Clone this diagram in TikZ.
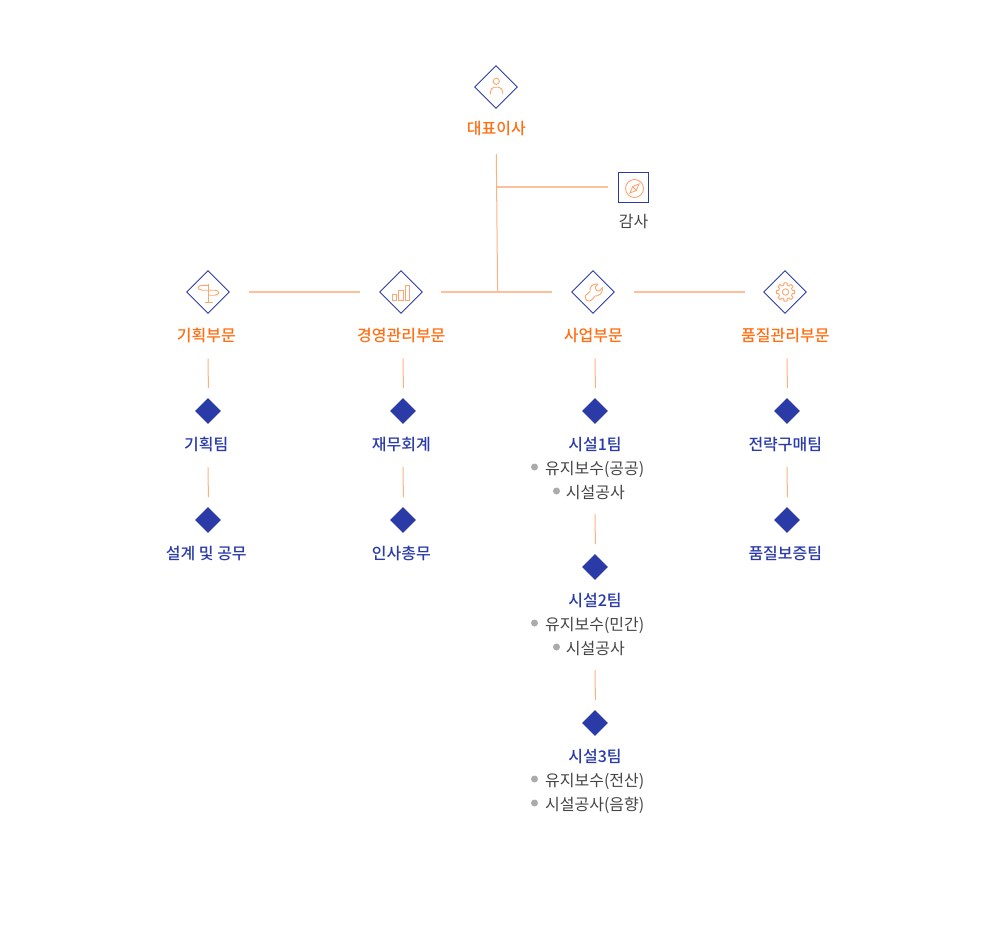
\documentclass[tikz,border=0pt]{standalone}
\usepackage{fontspec}
\setmainfont{Noto Sans CJK KR}[BoldFont={* Medium}]
\usetikzlibrary{shapes.geometric}
\definecolor{blu}{HTML}{2A3BA8}
\definecolor{org}{HTML}{FF6F14}
\definecolor{lin}{HTML}{FFBF9A}
\definecolor{lin2}{HTML}{FFB080}
\definecolor{icn}{HTML}{FFA570}
\definecolor{txt}{HTML}{444444}
\definecolor{bul}{HTML}{ABABAB}
\tikzset{
 dia/.style={diamond,draw=blu,line width=.9pt,inner sep=0pt,minimum width=43pt,minimum height=43pt,aspect=1},
 sq/.style={rectangle,draw=blu,line width=.9pt,inner sep=0pt,minimum size=30pt},
 fdia/.style={diamond,fill=blu,inner sep=0pt,minimum width=26pt,minimum height=26pt,aspect=1},
 lab/.style={font=\fontsize{16}{18}\selectfont,inner sep=0pt,text height=13pt,text depth=3pt,yshift=-1pt},
 head/.style={lab,text=org,font=\fontsize{16}{18}\selectfont\bfseries},
 team/.style={lab,text=blu,font=\fontsize{16}{18}\selectfont\bfseries},
 item/.style={lab,text=txt},
 dot/.style={circle,fill=bul,inner sep=0pt,minimum size=7pt},
 conn/.style={draw=lin,line width=1.2pt},
 thin/.style={draw=lin2,line width=1pt},
 ico/.style={draw=icn,line width=.9pt},
}
\begin{document}
\begin{tikzpicture}[x=1pt,y=-1pt]
\useasboundingbox (0,0) rectangle (1000,939);
% top
\node[dia] (ceo) at (496,87) {};
\node[head] (ceol) at (496.3,128.5) {대표이사};
\node[sq] (aud) at (633.7,187.9) {};
\node[item] (audl) at (633.5,221.5) {감사};
% divisions
\node[dia] (d1) at (208,292) {};
\node[dia] (d2) at (401,292) {};
\node[dia] (d3) at (593,292) {};
\node[dia] (d4) at (785,292) {};
\node[head] (d1l) at (206.3,335.5) {기획부문};
\node[head] (d2l) at (401.3,335.5) {경영관리부문};
\node[head] (d3l) at (593.3,335.5) {사업부문};
\node[head] (d4l) at (785.3,335.5) {품질관리부문};
% teams
\node[fdia] (t11) at (208,411) {};
\node[team] (t11l) at (206.3,444.5) {기획팀};
\node[fdia] (t12) at (208,520) {};
\node[team] (t12l) at (206.3,553.5) {설계 및 공무};
\node[fdia] (t21) at (403,411) {};
\node[team] (t21l) at (401.3,444.5) {재무회계};
\node[fdia] (t22) at (403,520) {};
\node[team] (t22l) at (401.3,553.5) {인사총무};
\node[fdia] (t31) at (595,411) {};
\node[team] (t31l) at (595,444.5) {시설1팀};
\node[dot] (b1) at (534.5,467) {};
\node[item,anchor=west] (i1) at (545,468.5) {유지보수(공공)};
\node[dot] (b2) at (556.5,491) {};
\node[item,anchor=west] (i2) at (565.7,492.5) {시설공사};
\node[fdia] (t32) at (595,567) {};
\node[team] (t32l) at (595,600.5) {시설2팀};
\node[dot] (b3) at (534.5,623) {};
\node[item,anchor=west] (i3) at (545,624.5) {유지보수(민간)};
\node[dot] (b4) at (556.5,647) {};
\node[item,anchor=west] (i4) at (565.7,648.5) {시설공사};
\node[fdia] (t33) at (595,723) {};
\node[team] (t33l) at (595,756.5) {시설3팀};
\node[dot] (b5) at (534.5,779) {};
\node[item,anchor=west] (i5) at (545,780.5) {유지보수(전산)};
\node[dot] (b6) at (534.5,803) {};
\node[item,anchor=west] (i6) at (545,804.5) {시설공사(음향)};
\node[fdia] (t41) at (787,411) {};
\node[team] (t41l) at (785.3,444.5) {전략구매팀};
\node[fdia] (t42) at (787,520) {};
\node[team] (t42l) at (785.3,553.5) {품질보증팀};
% connector ends
\coordinate (a) at (496.3,154); \coordinate (b) at (497.6,292); \coordinate (c) at (496.6,187); \coordinate (e) at (607.5,187);
\draw[thin] (a) -- (b);
\draw[conn] (c) -- (e);
\coordinate (h1) at (249,292); \coordinate (h2) at (360,292);
\coordinate (h3) at (441,292); \coordinate (h4) at (552,292);
\coordinate (h5) at (634,292); \coordinate (h6) at (745,292);
\draw[conn] (h1) -- (h2);
\draw[conn] (h3) -- (h4);
\draw[conn] (h5) -- (h6);
\foreach \n/\xa/\ya/\yb in {v1/208/358.5/388,v2/208/467/497,v3/403/358.5/388,v4/403/467/497,v5/595/358.5/388,v6/595/514/544,v7/595/670/700,v8/787/358.5/388,v9/787/467/497}{
 \coordinate (\n a) at (\xa,\ya); \coordinate (\n b) at (\xa+.4,\yb);
 \draw[thin] (\n a) -- (\n b);
}
% icons: person
\draw[ico] (496.3,81.3) circle (3.1);
\draw[ico] (490.3,94.5) -- (490.3,92) .. controls (490.3,89) and (492.5,87.3) .. (494.5,87.3) -- (498.5,87.3) .. controls (500.5,87.3) and (502.7,89) .. (502.7,92) -- (502.7,94.5);
% compass
\draw[ico] (634.5,188.5) circle (9);
\draw[ico] (630,193) -- (632.6,186.6) -- (639,184) -- (636.4,190.4) -- cycle;
\draw[ico] (632.6,186.6) -- (636.4,190.4);
% signpost
\draw[ico] (208.5,284) -- (208.5,302.5);
\draw[ico] (204.5,302.5) -- (212.5,302.5);
\draw[ico,line join=round] (208.5,285.3) -- (202,285.3) .. controls (200,285.5) and (198.5,286.5) .. (198,287.8) .. controls (198.5,289) and (200,290) .. (202,290.2) -- (208.5,290.2);
\draw[ico,line join=round] (208.5,290.2) -- (215,290.2) .. controls (217,290.4) and (218.5,291.4) .. (219,292.7) .. controls (218.5,294) and (217,295) .. (215,295.2) -- (208.5,295.2);
% bars
\draw[ico] (392,294) rectangle (396,300);
\draw[ico] (398.7,290) rectangle (403,300);
\draw[ico] (405.6,285.5) rectangle (409.6,300);
% wrench
\draw[ico,line join=round] (585.5,295.5) -- (590,291.5) .. controls (589,287) and (593,283) .. (598,284) -- (595,287.5) -- (596.5,290.5) -- (599.5,291) -- (602.5,287.5) .. controls (603,293) and (599,296.5) .. (595,296) -- (591,300.5) .. controls (588,302.5) and (584,299) .. (585.5,295.5) -- cycle;
% gear
\begin{scope}[shift={(785.5,292)}]
\draw[ico] (0,0) circle (3.2);
\draw[ico,line join=round] (-14:7) \foreach \a in {0,45,...,315}{ -- (\a-10:9.3) -- (\a+10:9.3) -- (\a+14:7) -- (\a+31:7) } -- cycle;
\end{scope}
\end{tikzpicture}
\end{document}
